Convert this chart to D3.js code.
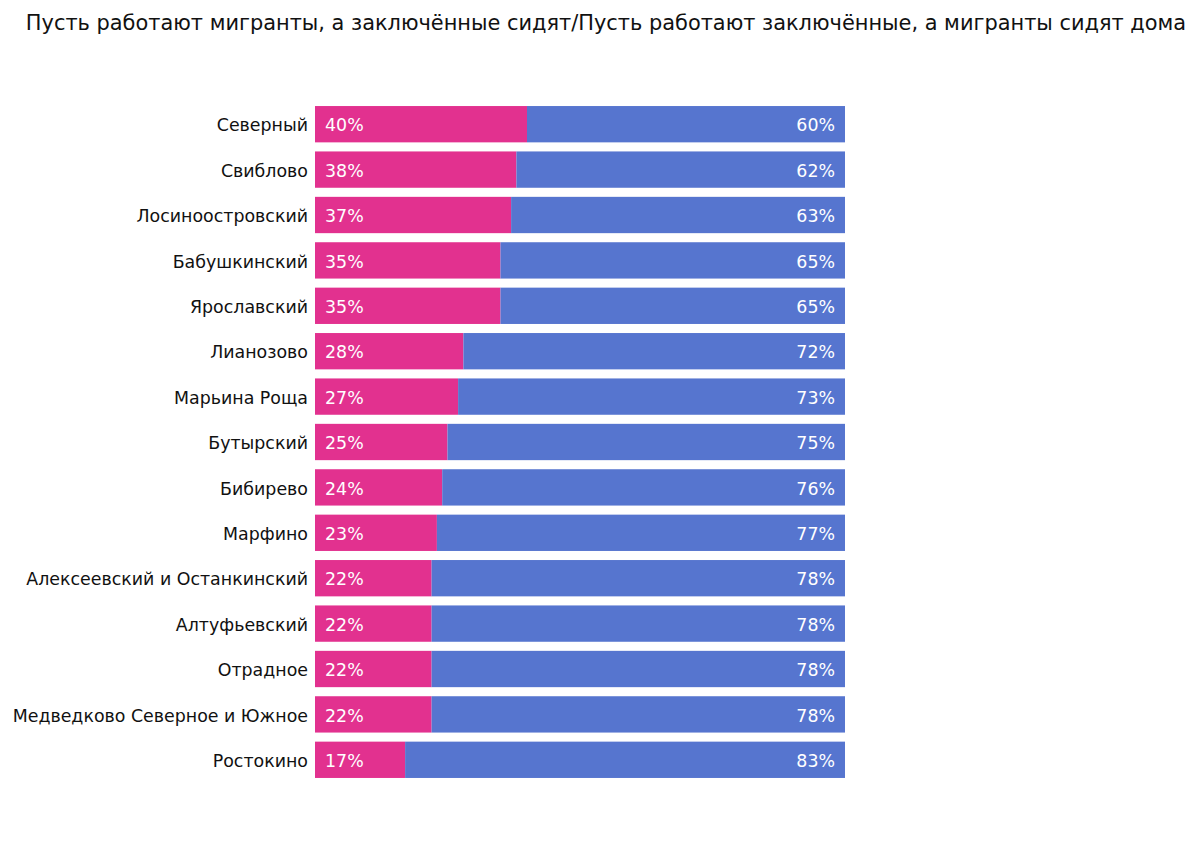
<!DOCTYPE html>
<html>
<head>
<meta charset="utf-8">
<script src="https://cdn.jsdelivr.net/npm/d3@7"></script>
<style>
  body { margin: 0; background: #fff; }
  svg { font-family: "DejaVu Sans", sans-serif; }
</style>
</head>
<body>
<script>
// data
let districts = ["Северный", "Свиблово", "Лосиноостровский", "Бабушкинский", "Ярославский",
                 "Лианозово", "Марьина Роща", "Бутырский", "Бибирево", "Марфино",
                 "Алексеевский и Останкинский", "Алтуфьевский", "Отрадное",
                 "Медведково Северное и Южное", "Ростокино"];
let migrants_work = [40, 38, 37, 35, 35, 28, 27, 25, 24, 23, 22, 22, 22, 22, 17];
let prisoners_work = [60, 62, 63, 65, 65, 72, 73, 75, 76, 77, 78, 78, 78, 78, 83];
let title_text = "Пусть работают мигранты, а заключённые сидят/Пусть работают заключённые, а мигранты сидят дома";

// color
let color_pink = "#e2318f";
let color_blue = "#5675cf";

let width = 1200;
let height = 858;

let svg = d3.select("body").append("svg")
            .attr("width", width)
            .attr("height", height);

svg.append("text")
   .attr("x", 606)
   .attr("y", 30)
   .attr("text-anchor", "middle")
   .attr("font-size", 20.9)
   .attr("fill", "#111")
   .text(title_text);

let x = d3.scaleLinear().domain([0, 100]).range([315, 845]);
let y = d3.scaleBand()
          .domain(districts)
          .range([101.5, 782.5])
          .paddingInner(0.2)
          .paddingOuter(0.1);

let rows = districts.map((d, i) => ({name: d, a: migrants_work[i], b: prisoners_work[i]}));

// pink part
svg.selectAll("rect.a")
   .data(rows)
   .enter().append("rect")
   .attr("class", "a")
   .attr("x", x(0))
   .attr("y", d => y(d.name))
   .attr("width", d => x(d.a) - x(0))
   .attr("height", y.bandwidth())
   .attr("fill", color_pink);

// blue part
svg.selectAll("rect.b")
   .data(rows)
   .enter().append("rect")
   .attr("class", "b")
   .attr("x", d => x(d.a))
   .attr("y", d => y(d.name))
   .attr("width", d => x(d.a + d.b) - x(d.a))
   .attr("height", y.bandwidth())
   .attr("fill", color_blue);

// district labels
svg.selectAll("text.name")
   .data(rows)
   .enter().append("text")
   .attr("class", "name")
   .attr("x", x(0) - 7)
   .attr("y", d => y(d.name) + y.bandwidth() / 2)
   .attr("dy", "0.41em")
   .attr("text-anchor", "end")
   .attr("font-size", 17.4)
   .attr("fill", "#111")
   .text(d => d.name);

// value labels
svg.selectAll("text.va")
   .data(rows)
   .enter().append("text")
   .attr("class", "va")
   .attr("x", x(0) + 10)
   .attr("y", d => y(d.name) + y.bandwidth() / 2)
   .attr("dy", "0.41em")
   .attr("font-size", 17.4)
   .attr("fill", "#fff")
   .text(d => d.a + "%");

svg.selectAll("text.vb")
   .data(rows)
   .enter().append("text")
   .attr("class", "vb")
   .attr("x", x(100) - 10)
   .attr("y", d => y(d.name) + y.bandwidth() / 2)
   .attr("dy", "0.41em")
   .attr("text-anchor", "end")
   .attr("font-size", 17.4)
   .attr("fill", "#fff")
   .text(d => d.b + "%");
</script>
</body>
</html>
